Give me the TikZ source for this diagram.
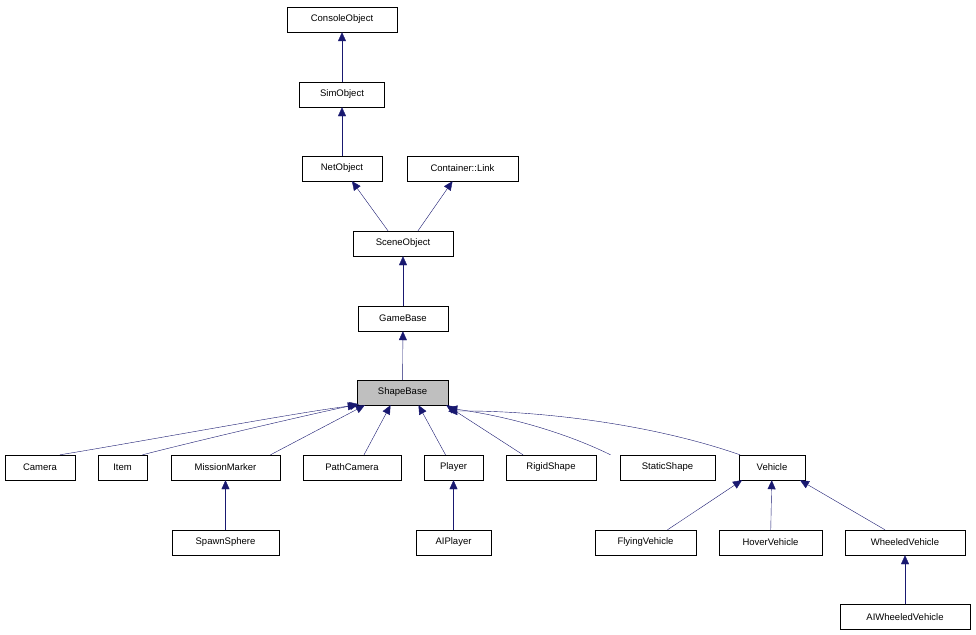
\documentclass[tikz,border=0pt]{standalone}
\usepackage{fontspec}
\setmainfont{Liberation Sans}
\usetikzlibrary{arrows.meta}
\definecolor{edge}{RGB}{25,25,112}
\begin{document}
\begin{tikzpicture}[x=1pt,y=-1pt,
  box/.style={draw=black,fill=white,minimum height=25pt,inner sep=0pt,font=\fontsize{9.5}{11}\selectfont},
  inh/.style={draw=edge,-{Triangle[length=9pt,width=8pt,fill=edge]}}]
\path[use as bounding box] (0,0) rectangle (976,634);
\node[box,minimum width=110pt] (co) at (342,19.5) {ConsoleObject};
\node[box,minimum width=85pt] (so) at (342,94.5) {SimObject};
\node[box,minimum width=80pt] (no) at (342,168.5) {NetObject};
\node[box,minimum width=111pt] (cl) at (462.5,168.5) {Container::Link};
\node[box,minimum width=100pt] (sc) at (403,243.5) {SceneObject};
\node[box,minimum width=90pt] (gb) at (403,318.5) {GameBase};
\node[box,minimum width=91pt,fill={rgb,255:red,191;green,191;blue,191}] (sb) at (402.5,392.5) {ShapeBase};
\node[box,minimum width=70pt] (cam) at (40,467.5) {Camera};
\node[box,minimum width=49pt] (item) at (122.5,467.5) {Item};
\node[box,minimum width=109pt] (mm) at (225.5,467.5) {MissionMarker};
\node[box,minimum width=98pt] (pc) at (352,467.5) {PathCamera};
\node[box,minimum width=59pt] (pl) at (453.5,467.5) {Player};
\node[box,minimum width=90pt] (rs) at (551,467.5) {RigidShape};
\node[box,minimum width=95pt] (ss) at (667.5,467.5) {StaticShape};
\node[box,minimum width=66pt] (ve) at (772,467.5) {Vehicle};
\node[box,minimum width=107pt] (sp) at (225.5,542.5) {SpawnSphere};
\node[box,minimum width=75pt] (ai) at (453.5,542.5) {AIPlayer};
\node[box,minimum width=101pt] (fv) at (645.5,542.5) {FlyingVehicle};
\node[box,minimum width=103pt] (hv) at (770.5,542.5) {HoverVehicle};
\node[box,minimum width=120pt] (wv) at (905,542.5) {WheeledVehicle};
\node[box,minimum width=130pt] (aw) at (905,617) {AIWheeledVehicle};
\draw[inh] (so) -- (co);
\draw[inh] (no) -- (so);
\draw[inh] ([xshift=-15pt]sc.north) -- ([xshift=10pt]no.south);
\draw[inh] ([xshift=15pt]sc.north) -- ([xshift=-10pt]cl.south);
\draw[inh] (gb) -- (sc);
\draw[inh] (sb) -- (gb);
\draw[inh] ([xshift=20pt]cam.north) .. controls (150,440) and (300,412) .. (sb.south west);
\draw[inh] ([xshift=20pt]item.north) .. controls (200,440) and (320,412) .. ([xshift=2pt,yshift=1pt]sb.south west);
\draw[inh] ([xshift=45pt]mm.north) -- ([xshift=8pt]sb.south west);
\draw[inh] ([xshift=12pt]pc.north) -- ([xshift=-12pt]sb.south);
\draw[inh] ([xshift=-8pt]pl.north) -- ([xshift=16pt]sb.south);
\draw[inh] ([xshift=-28pt]rs.north) -- ([xshift=-2pt]sb.south east);
\draw[inh] ([xshift=-57pt]ss.north) .. controls (560,430) and (500,415) .. ([yshift=-3pt]sb.south east);
\draw[inh] ([xshift=-32pt]ve.north) .. controls (640,420) and (520,410) .. ([yshift=-6pt]sb.south east);
\draw[inh] (sp) -- (mm);
\draw[inh] (ai) -- (pl);
\draw[inh] ([xshift=22pt]fv.north) -- ([xshift=-30pt]ve.south);
\draw[inh] (hv) -- (ve);
\draw[inh] ([xshift=-20pt]wv.north) -- ([xshift=28pt]ve.south);
\draw[inh] (aw) -- (wv);
\end{tikzpicture}
\end{document}
